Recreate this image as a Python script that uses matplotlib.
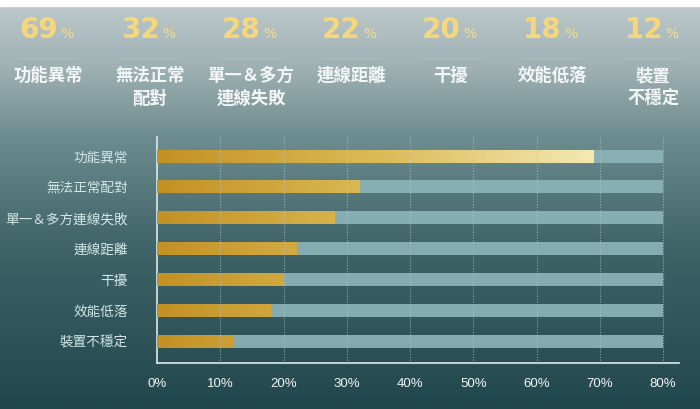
import matplotlib.pyplot as plt
import matplotlib
import numpy as np
from matplotlib.colors import LinearSegmentedColormap

categories = ['功能異常', '無法正常配對', '單一＆多方連線失敗', '連線距離', '干擾', '效能低落', '裝置不穩定']
header_labels = ['功能異常', '無法正常\n配對', '單一＆多方\n連線失敗', '連線距離', '干擾', '效能低落', '裝置\n不穩定']
values = [69, 32, 28, 22, 20, 18, 12]
full_scale = 80
x_ticks = [0, 10, 20, 30, 40, 50, 60, 70, 80]

matplotlib.rcParams['font.family'] = ['Noto Sans CJK TC', 'DejaVu Sans']

W, H = 700, 409
fig = plt.figure(figsize=(W / 100, H / 100), dpi=100)

# background gradient
bg = fig.add_axes([0, 0, 1, 1], zorder=0)
bg_cmap = LinearSegmentedColormap.from_list('bg', [
    (0.0, '#bcc8ca'), (0.15, '#9fb1b3'), (0.32, '#6e8d90'),
    (0.6, '#3f6367'), (1.0, '#21474e')])
bg.imshow(np.linspace(0, 1, 256).reshape(-1, 1), aspect='auto', cmap=bg_cmap,
          extent=[0, W, H, 6])
bg.axhspan(0, 6, color='white')
bg.set_xlim(0, W)
bg.set_ylim(H, 0)
bg.axis('off')

# header numbers
centers = [48, 150, 251, 351, 451, 552, 653]
for cx, v, lab in zip(centers, values, header_labels):
    bg.text(cx + 10, 38, str(v), ha='right', va='baseline', fontsize=20,
            fontweight='bold', color='#f6d77c', family=['DejaVu Sans'])
    bg.text(cx + 12, 38, '%', ha='left', va='baseline', fontsize=10,
            color='#f3dc90', family=['DejaVu Sans'])
    bg.plot([cx - 30, cx + 30], [58, 58], color='#a9c2c5', lw=0.8, alpha=0.8)
    bg.text(cx, 67, lab, ha='center', va='top', fontsize=12.5,
            fontweight='bold', color='#f4f6f6', linespacing=1.35)

# main bar chart
left, right, top, bottom = 157, 679, 137, 363
ax = fig.add_axes([left / W, 1 - bottom / H, (right - left) / W, (bottom - top) / H], zorder=1)
ax.set_facecolor('none')
y = np.arange(len(categories))
bh = 0.42

ax.barh(y, [full_scale] * len(y), height=bh, color='#8cb3b8', alpha=0.92, zorder=2)
bars = ax.barh(y, values, height=bh, color='none', zorder=3)

gold = LinearSegmentedColormap.from_list('gold', ['#c39124', '#dcbc58', '#f5edbc'])
grad = np.linspace(0, 1, 256).reshape(1, -1)
for yi, b in zip(y, bars):
    im = ax.imshow(grad, aspect='auto', cmap=gold, zorder=3,
                   extent=[0, 72, yi + bh / 2, yi - bh / 2])
    im.set_clip_path(b)

ax.set_xlim(0, 82.5)
ax.set_ylim(len(y) - 1 + 0.71, -0.62)
ax.set_yticks(y)
ax.set_yticklabels(categories, fontsize=9.8, color='#d3e6e6')
ax.set_xticks(x_ticks)
ax.set_xticklabels(['%d%%' % t for t in x_ticks], fontsize=9.5, color='#f2f5f5',
                   family=['Liberation Sans', 'DejaVu Sans'])
ax.tick_params(length=0)
ax.tick_params(axis='x', pad=11)
ax.tick_params(axis='y', pad=21)
for xt in x_ticks[1:]:
    ax.axvline(xt, color='#a9c8cb', lw=0.8, ls=(0, (1, 1.5)), alpha=0.75, zorder=4)
for s in ['top', 'right']:
    ax.spines[s].set_visible(False)
for s in ['left', 'bottom']:
    ax.spines[s].set_color('#dfe9e9')
    ax.spines[s].set_linewidth(1.2)

plt.savefig('out.png', dpi=100)
